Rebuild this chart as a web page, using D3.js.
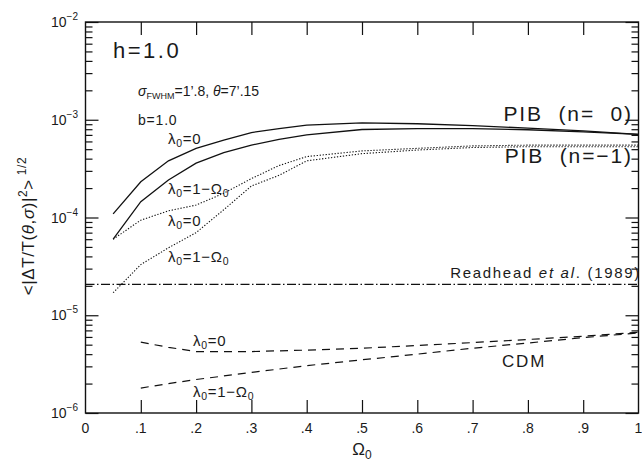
<!DOCTYPE html>
<html>
<head>
<meta charset="utf-8">
<script src="https://cdn.jsdelivr.net/npm/d3@7"></script>
<style>
  body { margin: 0; background: #fff; }
  svg { font-family: "Liberation Sans", Arial, sans-serif; }
  text { fill: #1a1a1a; }
</style>
</head>
<body>
<div id="chart"></div>
<script>
// values
const omega = [0.05, 0.1, 0.15, 0.2, 0.25, 0.3, 0.35, 0.4, 0.5, 0.6, 0.7, 0.8, 0.9, 1.0];
const pib0Open  = [1.09e-4, 2.32e-4, 3.8e-4, 5.1e-4, 6.2e-4, 7.4e-4, 8.1e-4, 8.8e-4, 9.3e-4, 9.1e-4, 8.7e-4, 8.2e-4, 7.7e-4, 7.1e-4];
const pib0Flat  = [6.0e-5, 1.45e-4, 2.42e-4, 3.6e-4, 4.6e-4, 5.5e-4, 6.3e-4, 7.0e-4, 7.95e-4, 8.1e-4, 8.1e-4, 7.9e-4, 7.5e-4, 7.1e-4];
const pibm1Open = [6.0e-5, 9.4e-5, 1.17e-4, 1.34e-4, 1.77e-4, 2.5e-4, 3.4e-4, 4.2e-4, 4.8e-4, 5.1e-4, 5.4e-4, 5.5e-4, 5.5e-4, 5.5e-4];
const pibm1Flat = [1.7e-5, 3.3e-5, 4.9e-5, 7.0e-5, 1.2e-4, 2.1e-4, 2.7e-4, 3.8e-4, 4.5e-4, 4.9e-4, 5.2e-4, 5.3e-4, 5.3e-4, 5.3e-4];

const omegaCdm = [0.1, 0.15, 0.2, 0.3, 0.4, 0.5, 0.6, 0.7, 0.8, 0.9, 1.0];
const cdmOpen = [5.3e-6, 4.7e-6, 4.25e-6, 4.25e-6, 4.4e-6, 4.6e-6, 4.9e-6, 5.25e-6, 5.65e-6, 6.1e-6, 6.7e-6];
const cdmFlat = [1.8e-6, 2.0e-6, 2.2e-6, 2.6e-6, 3.05e-6, 3.5e-6, 4.0e-6, 4.6e-6, 5.2e-6, 5.9e-6, 6.6e-6];

const readhead = 2.07e-5;

const xTicks = [0, 0.1, 0.2, 0.3, 0.4, 0.5, 0.6, 0.7, 0.8, 0.9, 1];
const xTickLabels = ["0", ".1", ".2", ".3", ".4", ".5", ".6", ".7", ".8", ".9", "1"];
const yTicks = [1e-6, 1e-5, 1e-4, 1e-3, 1e-2];
const yExponents = ["\u22126", "\u22125", "\u22124", "\u22123", "\u22122"];

const width = 642, height = 463;
const plot = { left: 85.5, right: 638.5, top: 22, bottom: 413 };

const svg = d3.select("#chart")
    .append("svg")
    .attr("width", width)
    .attr("height", height);

const x = d3.scaleLinear().domain([0, 1]).range([plot.left, plot.right]);
const y = d3.scaleLog().domain([1e-6, 1e-2]).range([plot.bottom, plot.top]);

// minor ticks on the log axis
const minor = [];
yTicks.slice(0, -1).forEach(d => {
    for (let k = 2; k <= 9; k++) minor.push(d * k);
});

const tickStyle = g => g.call(s => s.select(".domain").remove())
    .call(s => s.selectAll("line").attr("stroke", "#111").attr("stroke-width", 1.2))
    .call(s => s.selectAll("text").remove());

svg.append("g").attr("transform", `translate(0,${plot.bottom})`)
    .call(d3.axisBottom(x).tickValues(xTicks.slice(1, -1)).tickSize(-13)).call(tickStyle);
svg.append("g").attr("transform", `translate(0,${plot.top})`)
    .call(d3.axisTop(x).tickValues(xTicks.slice(1, -1)).tickSize(-13)).call(tickStyle);
svg.append("g").attr("transform", `translate(${plot.left},0)`)
    .call(d3.axisLeft(y).tickValues(yTicks).tickSize(-13)).call(tickStyle);
svg.append("g").attr("transform", `translate(${plot.left},0)`)
    .call(d3.axisLeft(y).tickValues(minor).tickSize(-7)).call(tickStyle);
svg.append("g").attr("transform", `translate(${plot.right},0)`)
    .call(d3.axisRight(y).tickValues(yTicks).tickSize(-13)).call(tickStyle);
svg.append("g").attr("transform", `translate(${plot.right},0)`)
    .call(d3.axisRight(y).tickValues(minor).tickSize(-7)).call(tickStyle);

// frame
svg.append("rect")
    .attr("x", plot.left).attr("y", plot.top)
    .attr("width", plot.right - plot.left).attr("height", plot.bottom - plot.top)
    .attr("fill", "none").attr("stroke", "#111").attr("stroke-width", 1.4);

// tick labels
svg.append("g").selectAll("text")
    .data(xTicks)
    .join("text")
    .attr("x", d => x(d))
    .attr("y", 433)
    .attr("text-anchor", "middle")
    .attr("font-size", 14)
    .text((d, i) => xTickLabels[i]);

const yl = svg.append("g").selectAll("text")
    .data(yTicks)
    .join("text")
    .attr("x", 78)
    .attr("y", d => y(d) + 5)
    .attr("text-anchor", "end")
    .attr("font-size", 14);
yl.append("tspan").text("10");
yl.append("tspan").attr("dy", -7).attr("font-size", 10).text((d, i) => yExponents[i]);

// axis titles
const xt = svg.append("text")
    .attr("x", x(0.5)).attr("y", 455)
    .attr("text-anchor", "middle").attr("font-size", 17);
xt.append("tspan").text("\u03A9");
xt.append("tspan").attr("dy", 4).attr("font-size", 12).text("0");

const yt = svg.append("text")
    .attr("transform", "translate(34,226) rotate(-90)")
    .attr("text-anchor", "middle").attr("font-size", 17)
    .attr("letter-spacing", 0.6);
yt.append("tspan").text("<|\u0394T/T(");
yt.append("tspan").attr("font-style", "italic").text("\u03B8");
yt.append("tspan").text(",");
yt.append("tspan").attr("font-style", "italic").text("\u03C3");
yt.append("tspan").text(")|");
yt.append("tspan").attr("dy", -7).attr("font-size", 12).text("2");
yt.append("tspan").attr("dy", 7).text(">");
yt.append("tspan").attr("dy", -8).attr("font-size", 12).text(" 1/2");

// curves
const line = d3.line().x(d => x(d[0])).y(d => y(d[1]));
const series = [
    { xs: omega, ys: pib0Open, dash: null, w: 1.3 },
    { xs: omega, ys: pib0Flat, dash: null, w: 1.3 },
    { xs: omega, ys: pibm1Open, dash: "1.3,1.7", w: 1.1 },
    { xs: omega, ys: pibm1Flat, dash: "1.3,1.7", w: 1.1 },
    { xs: omegaCdm, ys: cdmOpen, dash: "8,6", w: 1.2 },
    { xs: omegaCdm, ys: cdmFlat, dash: "8,6", w: 1.2 }
];
svg.append("g").selectAll("path")
    .data(series)
    .join("path")
    .attr("d", s => line(s.xs.map((v, i) => [v, s.ys[i]])))
    .attr("fill", "none")
    .attr("stroke", "#111")
    .attr("stroke-width", s => s.w)
    .attr("stroke-dasharray", s => s.dash);

svg.append("line")
    .attr("x1", x(0)).attr("x2", x(1))
    .attr("y1", y(readhead)).attr("y2", y(readhead))
    .attr("stroke", "#111").attr("stroke-width", 1.2)
    .attr("stroke-dasharray", "9,2.5,1.5,2.5");

// annotations
const lambdaLabel = (px, py, flat, size) => {
    const t = svg.append("text").attr("x", px).attr("y", py)
        .attr("font-size", size).attr("letter-spacing", 0.7);
    t.append("tspan").text("\u03BB");
    t.append("tspan").attr("dy", 3).attr("font-size", size * 0.7).text("0");
    t.append("tspan").attr("dy", -3).text(flat ? "=1\u2212\u03A9" : "=0");
    if (flat) t.append("tspan").attr("dy", 3).attr("font-size", size * 0.7).text("0");
};
lambdaLabel(168, 144, false, 15);
lambdaLabel(168, 194, true, 15);
lambdaLabel(168, 226, false, 15);
lambdaLabel(168, 262, true, 15);
lambdaLabel(193, 346, false, 15);
lambdaLabel(193, 397, true, 15);

svg.append("text").attr("x", 113).attr("y", 58).attr("font-size", 22)
    .attr("letter-spacing", 2.5).text("h=1.0");
const sig = svg.append("text").attr("x", 138).attr("y", 96).attr("font-size", 14);
sig.append("tspan").attr("font-style", "italic").text("\u03C3");
sig.append("tspan").attr("dy", 3).attr("font-size", 9).text("FWHM");
sig.append("tspan").attr("dy", -3).text("=1\u2019.8,  ");
sig.append("tspan").attr("font-style", "italic").text("\u03B8");
sig.append("tspan").text("=7\u2019.15");
svg.append("text").attr("x", 138).attr("y", 125).attr("font-size", 14)
    .attr("letter-spacing", 0.8).text("b=1.0");

svg.append("text").attr("x", 633).attr("y", 121).attr("text-anchor", "end")
    .attr("font-size", 21).attr("letter-spacing", 1.9)
    .attr("xml:space", "preserve").text("PIB  (n=  0)");
svg.append("text").attr("x", 633).attr("y", 163).attr("text-anchor", "end")
    .attr("font-size", 21).attr("letter-spacing", 1.9)
    .attr("xml:space", "preserve").text("PIB  (n=\u22121)");

const rh = svg.append("text").attr("x", 641).attr("y", 278).attr("text-anchor", "end")
    .attr("font-size", 15).attr("letter-spacing", 1.7);
rh.append("tspan").text("Readhead ");
rh.append("tspan").attr("font-style", "italic").text("et al");
rh.append("tspan").text(". (1989)");

svg.append("text").attr("x", 502).attr("y", 367).attr("font-size", 17)
    .attr("letter-spacing", 1.8).text("CDM");
</script>
</body>
</html>
